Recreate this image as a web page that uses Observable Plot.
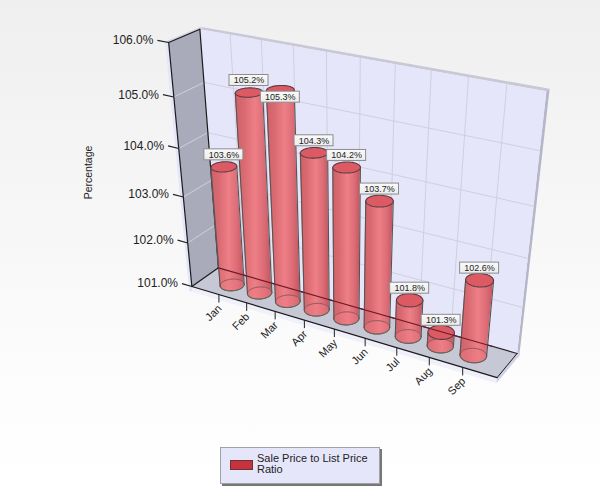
<!DOCTYPE html>
<html><head><meta charset="utf-8">
<script src="https://cdn.jsdelivr.net/npm/d3@7"></script>
<script src="https://cdn.jsdelivr.net/npm/@observablehq/plot@0.6"></script>
<style>
html,body{margin:0;padding:0;width:600px;height:500px;overflow:hidden;background:linear-gradient(#efefef 0,#fdfdfd 400px,#fff 500px);}
svg{display:block;background:transparent !important;}
#legend{position:absolute;left:220px;top:447px;width:160px;height:37px;box-sizing:border-box;background:#e6e6fa;border:1px solid #a0a0a8;box-shadow:1.5px 1.5px 0.5px #777;font:11px/11px "Liberation Sans",Arial,sans-serif;color:#222;}
#legend i{position:absolute;left:9px;top:12px;width:23px;height:10px;box-sizing:border-box;background:#c8323c;border:1px solid #663338;}
#legend span{position:absolute;left:36px;top:5px;width:120px;}
</style></head><body>
<div id="chart"></div>
<div id="legend"><i></i><span>Sale Price to List Price Ratio</span></div>
<script>
const months = ["Jan","Feb","Mar","Apr","May","Jun","Jul","Aug","Sep"];
const ratios = [103.6,105.18,105.34,104.3,104.16,103.66,101.8,101.3,102.6];
const valueTicks = [101,102,103,104,105,106];
const seriesName = "Sale Price to List Price Ratio";

const W = 600, H = 440;
const font = '"Liberation Sans",Arial,sans-serif';

// standalone scales: category -> along-axis, value -> height
const uScale = Plot.scale({x:{type:"point",domain:months,range:[0.1,0.9],padding:0}});
const vScale = Plot.scale({y:{type:"linear",domain:[101,106],range:[0,1]}});
const U = m => uScale.apply(m), V = v => vScale.apply(v);

// camera calibration: (u,v,w) of the box -> pixel position in the page
const calib = [
 [0,0,0,191.7,285.7],[1,0,0,496,376.7],[0,0,1,218,267],[1,0,1,516.7,353],
 [0,1,0,168,41.7],[0,1,1,199,29],[1,1,1,546,91],
 [0,.2,0,187,241.7],[0,.4,0,183,196.7],[0,.6,0,178,147.7],[0,.8,0,174,96.7],
 [.1,0,0,218.3,295],[.2,0,0,246.7,303],[.3,0,0,274.3,310.7],[.4,0,0,303.7,320],
 [.5,0,0,333.3,329],[.6,0,0,364.3,337.7],[.7,0,0,396,346.7],[.8,0,0,429.3,356.7],[.9,0,0,463,367.3]
];
function solve(){
  const n=11, A=Array.from({length:n},()=>new Array(n+1).fill(0));
  const add=(r,b)=>{for(let i=0;i<n;i++){for(let j=0;j<n;j++)A[i][j]+=r[i]*r[j];A[i][n]+=r[i]*b;}};
  for(const [u,v,w,x,y] of calib){
    add([u,v,w,1,0,0,0,0,-x*u,-x*v,-x*w],x);
    add([0,0,0,0,u,v,w,1,-y*u,-y*v,-y*w],y);
  }
  for(let c=0;c<n;c++){
    let p=c;for(let r=c+1;r<n;r++)if(Math.abs(A[r][c])>Math.abs(A[p][c]))p=r;
    [A[c],A[p]]=[A[p],A[c]];
    for(let r=0;r<n;r++)if(r!==c){const f=A[r][c]/A[c][c];for(let k=c;k<=n;k++)A[r][k]-=f*A[c][k];}
  }
  return A.map((row,i)=>row[n]/row[i]);
}
const M = solve();
function P(u,v,w){
  const d=M[8]*u+M[9]*v+M[10]*w+1;
  return [(M[0]*u+M[1]*v+M[2]*w+M[3])/d,(M[4]*u+M[5]*v+M[6]*w+M[7])/d];
}
const pts = list => list.map(q=>{const [x,y]=P(...q);return {x,y};});

const poly = (corners,fill,stroke="none",sw=1) =>
  Plot.line(pts([...corners,corners[0]]),{x:"x",y:"y",fill,stroke,strokeWidth:sw,curve:"linear"});
const seg = (a,b,stroke,sw=1,op=1) =>
  Plot.line(pts([a,b]),{x:"x",y:"y",stroke,strokeWidth:sw,strokeOpacity:op});

// wall thicknesses in box units
const tu=0.012, tv=0.025, tw=0.15;

const boxMarks = [
  // outer faces
  poly([[-tu,1,0],[0,1,0],[0,1,1+tw],[-tu,1,1+tw]],"#d4d4e2"),
  poly([[-tu,-tv,0],[0,-tv,0],[0,1,0],[-tu,1,0]],"#e6e6fa"),
  poly([[0,1,1],[1,1,1],[1,1,1+tw],[0,1,1+tw]],"#c8c8d6"),
  poly([[1,-tv,1],[1,1,1],[1,1,1+tw],[1,-tv,1+tw]],"#b6b6ca"),
  poly([[0,-tv,0],[1,-tv,0],[1,0,0],[0,0,0]],"#f0f0fa"),
  poly([[1,-tv,0],[1,-tv,1+tw],[1,0,1+tw],[1,0,0]],"#d0d0e6"),
  // inner faces
  poly([[0,0,1],[1,0,1],[1,1,1],[0,1,1]],"#e6e6fa"),
  poly([[0,0,0],[0,0,1],[0,1,1],[0,1,0]],"#a9abbb"),
  poly([[0,0,0],[1,0,0],[1,0,1],[0,0,1]],"#c6c8d6"),
  // gridlines
  ...valueTicks.slice(1,-1).flatMap(t=>[
    seg([0,V(t),0],[0,V(t),1],"#d0d0da",1),
    seg([0,V(t),1],[1,V(t),1],"#cfcfde",1)
  ]),
  ...months.map(m=>seg([U(m),0,1],[U(m),1,1],"#cfcfde",1)),
  // box edges
  seg([0,0,0],[1,0,0],"#1a1a1a",1.2),
  seg([0,0,0],[0,1,0],"#1a1a1a",1.2),
  seg([0,0,0],[0,0,1],"#1a1a1a",1.2),
  seg([0,1,0],[0,1,1],"#1a1a1a",1.2),
  seg([0,0,1],[0,1,1],"#1a1a1a",1.2),
  seg([1,0,0],[1,0,1],"#1a1a1a",1),
  seg([0,0,1],[1,0,1],"#2a2026",1.2)
];

// cylinders
const ru=0.036, rw=0.27, w0=0.5, seg_n=60;
const ring = (m,v) => d3.range(seg_n+1).map(i=>{
  const a=i/seg_n*2*Math.PI;
  return P(U(m)+ru*Math.cos(a),v,w0+rw*Math.sin(a));
});
const rows = months.map((m,i)=>{
  const bot=ring(m,0), top=ring(m,V(ratios[i]));
  const sl=d3.scan(bot,(a,b)=>a[0]-b[0]), sr=d3.scan(bot,(a,b)=>b[0]-a[0]);
  const body=[];
  // walk the front half (w < w0) from left silhouette to right silhouette
  for(let k=sl;;k=(k+1)%seg_n){
    body.push({m,x1:top[k][0],y1:top[k][1],x2:bot[k][0],y2:bot[k][1]});
    if(k===sr)break;
  }
  const left=body[0], right=body[body.length-1];
  return {m,value:ratios[i],bot,top,body,left,right};
});
const ptObj = a => a.map(([x,y])=>({x,y}));
const barMarks = rows.flatMap(r=>[
  Plot.area(r.body,{x1:"x1",y1:"y1",x2:"x2",y2:"y2",fill:"url(#barGrad)"}),
  Plot.line(ptObj(r.bot),{x:"x",y:"y",fill:"#ee7c84",fillOpacity:0.45,stroke:"#8a5a5e",strokeWidth:1}),
  Plot.line(r.body,{x:"x2",y:"y2",stroke:"#665",strokeWidth:1.1}),
  Plot.line([{x:r.left.x1,y:r.left.y1},{x:r.left.x2,y:r.left.y2}],{x:"x",y:"y",stroke:"#555",strokeWidth:1.1}),
  Plot.line([{x:r.right.x1,y:r.right.y1},{x:r.right.x2,y:r.right.y2}],{x:"x",y:"y",stroke:"#555",strokeWidth:1.1}),
  Plot.line(ptObj(r.top),{x:"x",y:"y",fill:"#dc5a64",stroke:"#5a3c40",strokeWidth:1.1})
]);

// value labels (box above each bar top; Mar is pushed below by the chart's collision avoidance)
const labelShift = {Mar:7};
const labelRows = rows.map(r=>{
  const [cx,cy]=P(U(r.m),V(r.value),w0);
  return {m:r.m,cx,cy:cy+(labelShift[r.m]??-12),text:d3.format(".1f")(r.value)+"%"};
});
const labelBox = [
  Plot.rect(labelRows,{x1:d=>d.cx-19.5,x2:d=>d.cx+19.5,y1:d=>d.cy-5.5,y2:d=>d.cy+5.5,fill:"url(#tagGrad)",stroke:"#8c8c8c",strokeWidth:1}),
  Plot.text(labelRows,{x:"cx",y:"cy",text:"text",fontSize:9,fontFamily:font,fill:"#222"})
];

// axes
const yTickRows = valueTicks.map(t=>{
  const [x1,y1]=P(0,V(t),0),[x2,y2]=P(-0.037,V(t),0);
  return {x1,y1,x2,y2,text:d3.format(".1f")(t)+"%"};
});
const xTickRows = months.map(m=>{
  const [x,y]=P(U(m),0,0);
  return {m,x,y,y2:y+8};
});

const chart = Plot.plot({
  width:W,height:H,margin:0,
  x:{domain:[0,W],range:[0,W],axis:null},
  y:{domain:[0,H],range:[0,H],axis:null},
  style:{background:"transparent",fontFamily:font},
  marks:[
    () => {
      const defs=d3.create("svg:defs");
      const g=defs.append("linearGradient").attr("id","barGrad").attr("x1",0).attr("x2",1).attr("y1",0).attr("y2",0);
      [[0,"#cf6068"],[.25,"#da6a72"],[.55,"#ee7f87"],[.8,"#dc6c76"],[1,"#c4555e"]].forEach(([o,c])=>g.append("stop").attr("offset",o).attr("stop-color",c));
      const t=defs.append("linearGradient").attr("id","tagGrad").attr("x1",0).attr("x2",0).attr("y1",0).attr("y2",1);
      [[0,"#fafafa"],[1,"#ececec"]].forEach(([o,c])=>t.append("stop").attr("offset",o).attr("stop-color",c));
      return defs.node();
    },
    ...boxMarks,
    ...barMarks,
    seg([0,0,1],[0.925,0,1],"#701a28",1.2),
    ...labelBox,
    Plot.link(yTickRows,{x1:"x1",y1:"y1",x2:"x2",y2:"y2",stroke:"#222",strokeWidth:1.2}),
    Plot.text(yTickRows,{x:"x2",y:"y2",text:"text",textAnchor:"end",dx:-4,fontSize:12,fontFamily:font,fill:"#222"}),
    Plot.link(xTickRows,{x1:"x",y1:"y",x2:"x",y2:"y2",stroke:"#222",strokeWidth:1}),
    Plot.text(xTickRows,{x:"x",y:"y2",text:"m",rotate:-45,textAnchor:"end",dx:1,dy:4,fontSize:11,fontFamily:font,fill:"#222"}),
    Plot.text(["Percentage"],{x:()=>88,y:()=>172,text:d=>d,rotate:-90,fontSize:10.5,fontFamily:font,fill:"#222"})
  ]
});
document.getElementById("chart").append(chart);
</script>
</body></html>
